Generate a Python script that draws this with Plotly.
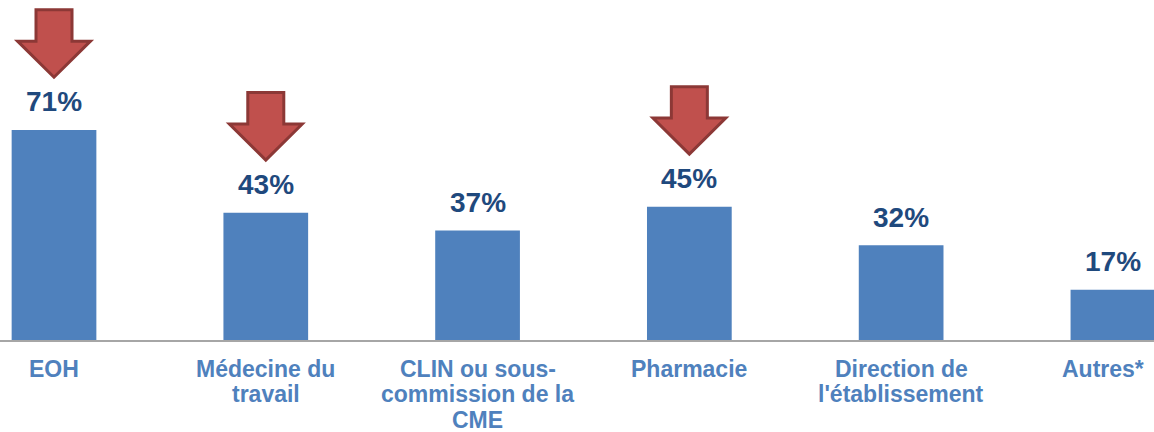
import plotly.graph_objects as go

category_lines = [["EOH"], ["Médecine du", "travail"], ["CLIN ou sous-", "commission de la", "CME"],
                  ["Pharmacie"], ["Direction de", "l'établissement"], ["Autres*"]]
values = [71, 43, 37, 45, 32, 17]
value_labels = ["71%", "43%", "37%", "45%", "32%", "17%"]
highlighted = [True, True, False, True, False, False]

BAR_COLOR = "#4F81BD"
VALUE_COLOR = "#1F497D"
LABEL_COLOR = "#4F81BD"
FONT = "Liberation Sans, Arial, sans-serif"

x = list(range(len(values)))

fig = go.Figure()
fig.add_trace(go.Bar(x=x, y=values, marker=dict(color=BAR_COLOR, line=dict(width=0)),
                     width=0.40, hoverinfo="skip"))

# value labels
for xi, v, t in zip(x, values, value_labels):
    fig.add_annotation(x=xi, y=v, text=f"<b>{t}</b>", showarrow=False, yanchor="middle",
                       yshift=28, font=dict(size=28, color=VALUE_COLOR, family=FONT))

# category labels (one annotation per line for tight line spacing)
for xi, lines in zip(x, category_lines):
    for li, line in enumerate(lines):
        xs = -10 if xi == len(x) - 1 else 0
        fig.add_annotation(x=xi, xref="x", y=0, yref="y", text=f"<b>{line}</b>", showarrow=False,
                           yanchor="middle", yshift=-(28.5 + li * 25.5), xshift=xs,
                           font=dict(size=23, color=LABEL_COLOR, family=FONT))

# block arrows above highlighted bars
tip_off, head_off, top_off = 17.8, 30.0, 40.6
half_head, half_shaft = 0.172, 0.085
for xi, v, h in zip(x, values, highlighted):
    if not h:
        continue
    tip = v + tip_off
    hs = v + head_off
    top = v + top_off
    path = (f"M {xi - half_shaft} {top} L {xi + half_shaft} {top} L {xi + half_shaft} {hs} "
            f"L {xi + half_head} {hs} L {xi} {tip} L {xi - half_head} {hs} L {xi - half_shaft} {hs} Z")
    fig.add_shape(type="path", path=path, xref="x", yref="y",
                  fillcolor="#C0504D", line=dict(color="#8C3836", width=3))

fig.update_layout(
    width=1154, height=432,
    margin=dict(l=0, r=0, t=0, b=92),
    plot_bgcolor="white", paper_bgcolor="white",
    showlegend=False,
    xaxis=dict(range=[-0.255, 5.194], showticklabels=False,
               showline=True, linecolor="#A6A6A6", linewidth=2, ticks="", showgrid=False,
               zeroline=False, fixedrange=True),
    yaxis=dict(range=[0, 114.9], visible=False, showgrid=False, zeroline=False, fixedrange=True),
)

fig.write_html("out.html", config={"displayModeBar": False},
               post_script="document.body.style.margin='0';document.body.style.overflow='hidden';")
